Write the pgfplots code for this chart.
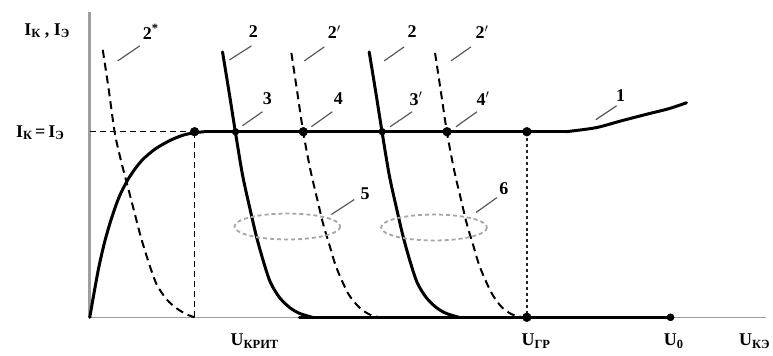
\documentclass[border=0pt]{standalone}
\usepackage{fontspec}
\setmainfont{Liberation Serif}
\usepackage{pgfplots}
\pgfplotsset{compat=1.18}

% subscript in the Cyrillic labels
\newcommand{\sub}[1]{\raisebox{-0.3ex}{\fontsize{12.5}{13}\selectfont #1}}

\begin{document}
\begin{tikzpicture}[
  lbl/.style={font=\fontsize{18}{20}\selectfont\bfseries},
  ln/.style={black,line width=3pt,line cap=round,line join=round},
  dsh/.style={black,line width=2pt,dash pattern=on 8pt off 5pt},
  lead/.style={gray!70!black,line width=1.2pt}]
\begin{axis}[
  width=773pt,height=356pt,scale only axis,
  xmin=0,xmax=773,ymin=0,ymax=356,y dir=reverse,
  hide axis,clip=false]

% keep the whole frame in the picture
\path (axis cs:0,0) (axis cs:773,356);

% axes
\addplot[mark=none,gray!75,line width=2.8pt] coordinates {(90,12) (90,319)};
\addplot[mark=none,gray!75,line width=1.6pt] coordinates {(90,318) (768,318)};

% guide lines
\addplot[mark=none,black,line width=1.3pt,dash pattern=on 6pt off 4pt] coordinates {(90,132) (195,132)};
\addplot[mark=none,black,line width=1.3pt,dash pattern=on 6pt off 4pt] coordinates {(195,132) (195,318)};
\addplot[mark=none,black!85,line width=1.8pt,dash pattern=on 3pt off 3pt] coordinates {(528,132) (528,318)};

% curve 1
\addplot[mark=none,ln,smooth] coordinates {(90,318) (94,295) (99,268) (105,242) (112,218) (120,196) (130,177) (142,161) (156,149) (172,140) (185,135) (195,133) (205,132)};
\addplot[mark=none,ln] coordinates {(205,132) (567,132)};
\addplot[mark=none,ln,smooth] coordinates {(567,132) (597,128) (623,121) (650,114) (670,109) (688,103)};
\addplot[mark=none,ln] coordinates {(300,318) (672,318)};

% curves 2*, 2, 2'
\addplot[mark=none,dsh,smooth] coordinates {(103,50) (109,90) (115,133) (121,160) (127,183) (134,210) (141,237) (149,263) (157,285) (167,300) (177,309) (187,315) (195,318)};
\addplot[mark=none,ln,smooth] coordinates {(223,52) (230,95) (236,133) (243,175) (250,207) (257,237) (264,262) (271,283) (280,298) (290,308) (300,314) (313,318)};
\addplot[mark=none,dsh,smooth] coordinates {(292,53) (298,93) (304,133) (311,170) (318,200) (324,225) (330,245) (336,265) (343,282) (350,296) (360,308) (370,315) (380,318)};
\addplot[mark=none,ln,smooth] coordinates {(370,52) (377,95) (383,133) (390,175) (397,207) (404,237) (411,262) (418,283) (427,298) (437,308) (447,314) (460,318)};
\addplot[mark=none,dsh,smooth] coordinates {(436,53) (442,93) (448,133) (455,170) (462,200) (468,225) (474,245) (480,265) (487,282) (494,296) (503,308) (513,315) (524,318)};

% points
\addplot[only marks,mark=*,mark size=4.4pt,black] coordinates {(195,132) (304,132) (448,132) (528,132) (528,318)};
\addplot[only marks,mark=*,mark size=3.4pt,black] coordinates {(236,132) (383,132)};
\addplot[only marks,mark=*,mark size=3.6pt,black] coordinates {(672,318)};

% regions 5 and 6
\draw[gray!70,line width=1.8pt,dash pattern=on 4pt off 3pt] (axis cs:288,227) ellipse [x radius=53,y radius=13];
\draw[gray!70,line width=1.8pt,dash pattern=on 4pt off 3pt] (axis cs:435,228) ellipse [x radius=53,y radius=13];

% leader lines
\addplot[mark=none,lead] coordinates {(118,61) (140,46)};
\addplot[mark=none,lead] coordinates {(230,60) (252,46)};
\addplot[mark=none,lead] coordinates {(305,61) (325,47)};
\addplot[mark=none,lead] coordinates {(385,61) (405,47)};
\addplot[mark=none,lead] coordinates {(452,61) (472,47)};
\addplot[mark=none,lead] coordinates {(243,126) (263,112)};
\addplot[mark=none,lead] coordinates {(312,127) (333,112)};
\addplot[mark=none,lead] coordinates {(391,127) (413,112)};
\addplot[mark=none,lead] coordinates {(457,127) (478,112)};
\addplot[mark=none,lead] coordinates {(597,120) (618,106)};
\addplot[mark=none,lead] coordinates {(332,215) (355,200)};
\addplot[mark=none,lead] coordinates {(477,213) (498,198)};

% labels
\node[lbl] at (axis cs:151,32) {2\textsuperscript{*}};
\node[lbl] at (axis cs:254,32) {2};
\node[lbl] at (axis cs:335,32) {2$'$};
\node[lbl] at (axis cs:413,32) {2};
\node[lbl] at (axis cs:483,32) {2$'$};
\node[lbl] at (axis cs:268,99) {3};
\node[lbl] at (axis cs:339,99) {4};
\node[lbl] at (axis cs:417,99) {3$'$};
\node[lbl] at (axis cs:484,99) {4$'$};
\node[lbl] at (axis cs:622,96) {1};
\node[lbl] at (axis cs:366,194) {5};
\node[lbl] at (axis cs:505,189) {6};

\node[lbl] at (axis cs:47,31) {I\sub{К} , I\sub{Э}};
\node[lbl] at (axis cs:40,133) {I\sub{К}\,=\,I\sub{Э}};
\node[lbl] at (axis cs:255,342) {U\sub{КРИТ}};
\node[lbl] at (axis cs:537,342) {U\sub{ГР}};
\node[lbl] at (axis cs:675,342) {U\sub{0}};
\node[lbl] at (axis cs:756,342) {U\sub{КЭ}};
\end{axis}
\end{tikzpicture}
\end{document}
